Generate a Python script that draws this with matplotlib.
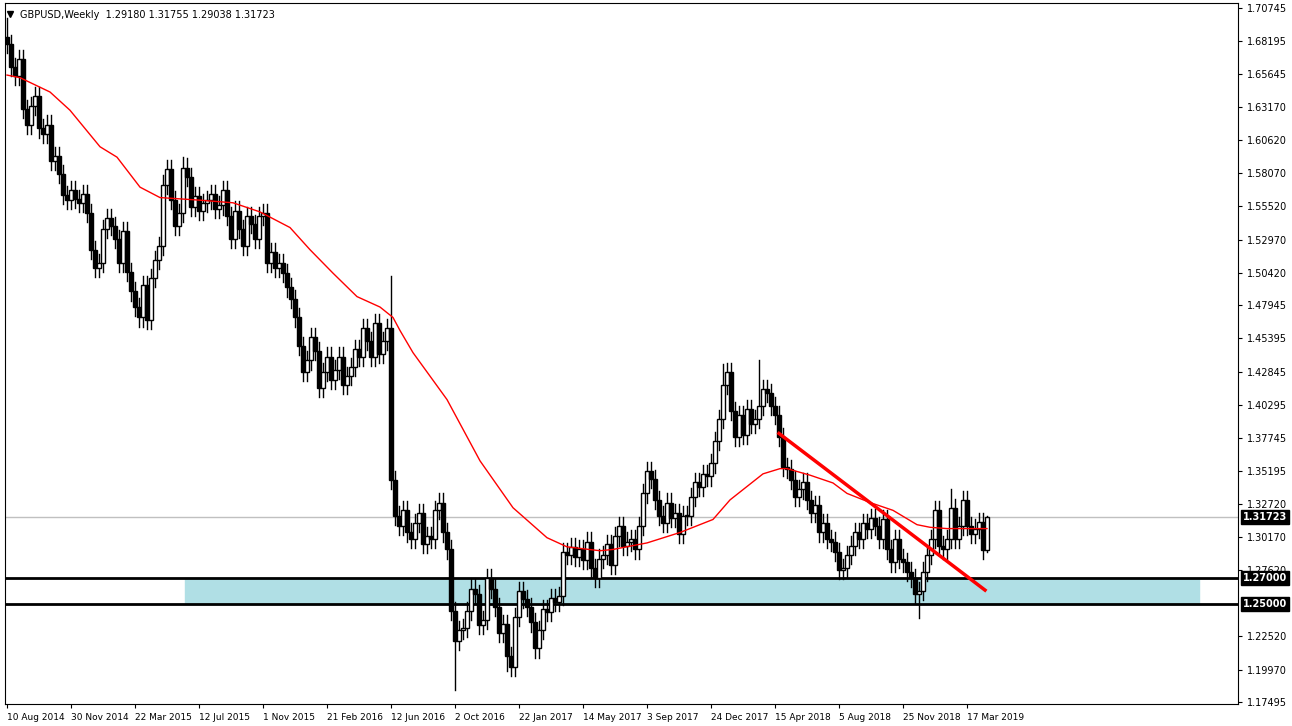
import matplotlib.pyplot as plt
import numpy as np
from matplotlib.patches import Rectangle

# weekly closes, 10 Aug 2014 .. 14 Apr 2019
closes = [
    1.680, 1.662, 1.655, 1.668, 1.630, 1.618, 1.632, 1.640, 1.615, 1.611,
    1.618, 1.590, 1.594, 1.580, 1.564, 1.560, 1.568, 1.561, 1.558, 1.565,
    1.550, 1.522, 1.508, 1.512, 1.538, 1.546, 1.540, 1.530, 1.512, 1.536,
    1.505, 1.490, 1.478, 1.470, 1.495, 1.468, 1.500, 1.514, 1.525, 1.572,
    1.584, 1.560, 1.540, 1.550, 1.585, 1.578, 1.555, 1.563, 1.552, 1.558,
    1.560, 1.565, 1.553, 1.556, 1.568, 1.548, 1.530, 1.552, 1.538, 1.525,
    1.548, 1.542, 1.530, 1.548, 1.550, 1.512, 1.520, 1.508, 1.512, 1.504,
    1.493, 1.484, 1.470, 1.448, 1.428, 1.437, 1.455, 1.444, 1.416, 1.428,
    1.440, 1.422, 1.430, 1.440, 1.418, 1.425, 1.432, 1.446, 1.440, 1.462,
    1.452, 1.440, 1.466, 1.442, 1.452, 1.462, 1.345, 1.318, 1.310, 1.322,
    1.305, 1.300, 1.312, 1.320, 1.296, 1.302, 1.300, 1.322, 1.328, 1.305,
    1.292, 1.245, 1.222, 1.230, 1.232, 1.245, 1.262, 1.258, 1.234, 1.238,
    1.270, 1.262, 1.248, 1.228, 1.235, 1.210, 1.202, 1.240, 1.260, 1.254,
    1.248, 1.236, 1.216, 1.230, 1.246, 1.244, 1.255, 1.252, 1.256, 1.290,
    1.288, 1.294, 1.286, 1.292, 1.284, 1.298, 1.278, 1.270, 1.285, 1.288,
    1.296, 1.280, 1.302, 1.310, 1.295, 1.298, 1.300, 1.292, 1.310, 1.335,
    1.352, 1.346, 1.330, 1.318, 1.312, 1.328, 1.316, 1.320, 1.304, 1.318,
    1.318, 1.332, 1.344, 1.340, 1.350, 1.348, 1.358, 1.375, 1.392, 1.418,
    1.428, 1.398, 1.378, 1.395, 1.380, 1.400, 1.388, 1.392, 1.402, 1.415,
    1.412, 1.402, 1.395, 1.378, 1.355, 1.354, 1.345, 1.332, 1.338, 1.344,
    1.330, 1.320, 1.326, 1.305, 1.312, 1.300, 1.298, 1.290, 1.276, 1.278,
    1.288, 1.295, 1.305, 1.300, 1.312, 1.308, 1.316, 1.310, 1.300, 1.315,
    1.292, 1.282, 1.300, 1.285, 1.282, 1.275, 1.270, 1.258, 1.260, 1.275,
    1.288, 1.300, 1.322, 1.295, 1.292, 1.300, 1.324, 1.300, 1.310, 1.330,
    1.310, 1.304, 1.308, 1.313, 1.2918, 1.31723,
]
first_open = 1.685
# notable wick extremes (week index -> value)
high_marks = {0: 1.700, 44: 1.5930, 96: 1.5018, 179: 1.4345, 188: 1.4376, 236: 1.3381, 245: 1.31755}
low_marks = {112: 1.1841, 125: 1.1986, 228: 1.2393, 245: 1.29038}
wick = 0.007

# 50-week moving average, read at week indices
ma_idx = [0, 3.25, 10.75, 15.75, 23.25, 27.5, 33.25, 38.25, 48.25, 56.5, 63.25, 70.75, 75.75, 81.5, 87.5,
          93.25, 96.5, 98.25, 101.5, 110, 118.25, 126.5, 135, 140, 148.25, 151.5, 160, 168.25, 176.5,
          180.75, 189, 193.25, 195, 200.75, 206.5, 210, 215.75, 221.5, 227.5, 230.75, 235, 238.25, 245]
ma_val = [1.656, 1.654, 1.643, 1.629, 1.601, 1.593, 1.570, 1.562, 1.560, 1.558, 1.551, 1.539, 1.522, 1.504,
          1.486, 1.478, 1.470, 1.460, 1.443, 1.407, 1.360, 1.324, 1.301, 1.294, 1.291, 1.292, 1.297,
          1.305, 1.315, 1.330, 1.350, 1.354, 1.354, 1.349, 1.343, 1.335, 1.328, 1.322, 1.311, 1.309,
          1.308, 1.308, 1.308]

trend_idx = [193, 244.5]
trend_val = [1.381, 1.2608]

ytick_vals = [1.70745, 1.68195, 1.65645, 1.63170, 1.60620, 1.58070, 1.55520, 1.52970, 1.50420, 1.47945,
              1.45395, 1.42845, 1.40295, 1.37745, 1.35195, 1.32720, 1.30170, 1.27620, 1.22520, 1.19970, 1.17495]
date_labels = ["10 Aug 2014", "30 Nov 2014", "22 Mar 2015", "12 Jul 2015", "1 Nov 2015", "21 Feb 2016",
               "12 Jun 2016", "2 Oct 2016", "22 Jan 2017", "14 May 2017", "3 Sep 2017", "24 Dec 2017",
               "15 Apr 2018", "5 Aug 2018", "25 Nov 2018", "17 Mar 2019"]

fig = plt.figure(figsize=(12.92, 7.26), dpi=100)
ax = fig.add_axes([5 / 1292, 1 - 704 / 726, 1233 / 1292, 701 / 726])
ax.set_xlim(-0.5, 307.75)
ax.set_ylim(1.1734, 1.7113)

# support zone
ax.add_patch(Rectangle((44.5, 1.25), 253.5, 0.02, color="#b0dfe5", zorder=1))
ax.axhline(1.27, color="black", lw=2, zorder=2)
ax.axhline(1.25, color="black", lw=2, zorder=2)
ax.axhline(closes[-1], color="#c0c0c0", lw=1, zorder=1)

opens = [first_open] + closes[:-1]
for i, (o, c) in enumerate(zip(opens, closes)):
    hi = high_marks.get(i, max(o, c) + wick)
    lo = low_marks.get(i, min(o, c) - wick)
    ax.plot([i, i], [lo, hi], color="black", lw=1, zorder=3)
    bottom = min(o, c)
    h = max(abs(c - o), 0.0008)
    face = "white" if c >= o else "black"
    ax.add_patch(Rectangle((i - 0.38, bottom), 0.76, h, facecolor=face, edgecolor="black", lw=1, zorder=4))

ax.plot(ma_idx, ma_val, color="red", lw=1, zorder=5)
ax.plot(trend_idx, trend_val, color="red", lw=2.5, zorder=6)

ax.yaxis.tick_right()
ax.set_yticks(ytick_vals)
ax.set_yticklabels([f"{v:.5f}" for v in ytick_vals], fontsize=7)
ax.set_xticks(range(0, 16 * len(date_labels), 16))
ax.set_xticklabels(date_labels, fontsize=6.5, ha="left")
ax.tick_params(length=3)

for val, lab in [(closes[-1], "1.31723"), (1.27, "1.27000"), (1.25, "1.25000")]:
    ax.text(1.004, val, lab, transform=ax.get_yaxis_transform(), fontsize=7, color="white",
            va="center", ha="left", fontweight="bold", zorder=10,
            bbox=dict(facecolor="black", edgecolor="black", pad=1.5))

ax.text(0.012, 0.99, "GBPUSD,Weekly  1.29180 1.31755 1.29038 1.31723", transform=ax.transAxes,
        fontsize=7, va="top", ha="left")
ax.plot([0.004], [0.985], marker="v", color="black", markersize=4, transform=ax.transAxes)

fig.savefig("out.png", dpi=100)
